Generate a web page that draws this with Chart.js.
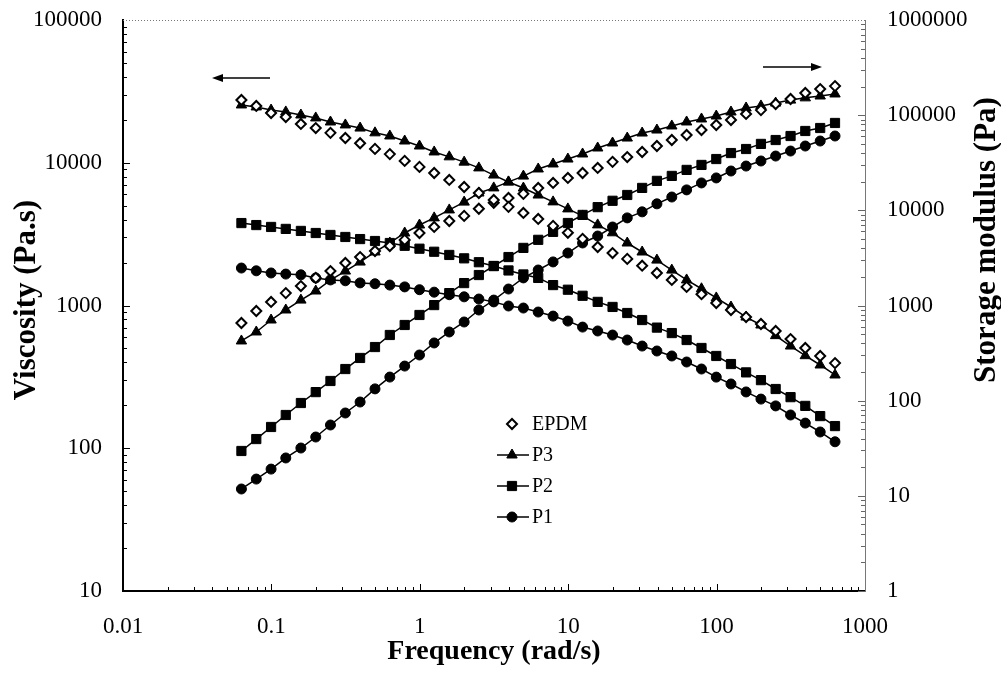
<!DOCTYPE html>
<html>
<head>
<meta charset="utf-8">
<script src="https://cdn.jsdelivr.net/npm/chart.js@4/dist/chart.umd.min.js"></script>
<style>
  html, body { margin: 0; padding: 0; background: #fff; }
  #wrap { width: 1001px; height: 676px; }
</style>
</head>
<body>
<div id="wrap"><canvas id="chart" width="1001" height="676"></canvas></div>
<script>
// Frequency sweep (rad/s)
const freq = [0.0628, 0.0791, 0.0995, 0.125, 0.158, 0.199, 0.250, 0.315, 0.396, 0.499,
    0.628, 0.791, 0.995, 1.25, 1.58, 1.99, 2.50, 3.15, 3.96, 4.99,
    6.28, 7.91, 9.95, 12.5, 15.8, 19.9, 25.0, 31.5, 39.6, 49.9,
    62.8, 79.1, 99.5, 125, 158, 199, 250, 315, 396, 499, 628];

// Viscosity (Pa.s) - left axis
const etaEPDM = [27500, 25000, 22300, 20900, 18700, 17500, 16200, 14900, 13700, 12500,
    11500, 10300, 9350, 8480, 7580, 6760, 6140, 5480, 4910, 4450,
    4040, 3610, 3230, 2930, 2570, 2330, 2120, 1900, 1690, 1510,
    1350, 1200, 1040, 929, 830, 742, 663, 582, 504, 443, 395];
const etaP3 = [25400, 24600, 23400, 22700, 21600, 20600, 19300, 18400, 17500, 16200,
    15400, 14200, 13100, 11900, 11000, 10100, 9200, 8200, 7330, 6650,
    5940, 5320, 4750, 4240, 3670, 3230, 2740, 2370, 2080, 1770,
    1510, 1310, 1130, 976, 830, 730, 615, 520, 445, 383, 326];
const etaP2 = [3780, 3660, 3550, 3440, 3330, 3220, 3120, 3020, 2920, 2830,
    2740, 2620, 2500, 2380, 2260, 2140, 2010, 1890, 1760, 1650,
    1560, 1390, 1290, 1170, 1060, 977, 886, 791, 700, 641,
    573, 504, 443, 389, 340, 300, 260, 228, 198, 168, 143];
const etaP1 = [1830, 1750, 1690, 1660, 1640, 1560, 1510, 1490, 1440, 1420,
    1390, 1350, 1290, 1240, 1190, 1150, 1110, 1060, 992, 960,
    900, 843, 778, 706, 663, 621, 573, 520, 480, 443,
    402, 359, 315, 282, 248, 221, 198, 171, 150, 130, 111];

// Storage modulus (Pa) - right axis
const gEPDM = [655, 875, 1090, 1350, 1600, 1950, 2300, 2800, 3230, 3740,
    4220, 4890, 5780, 6690, 7730, 8740, 10400, 12000, 13500, 14900,
    17200, 19400, 21900, 24700, 27900, 32300, 36300, 41000, 47400, 54800,
    61900, 69800, 78900, 88900, 103000, 113000, 131000, 148000, 171000, 188000, 202000];
const gP3 = [424, 527, 704, 897, 1140, 1420, 1850, 2300, 2860, 3650,
    4540, 5780, 7010, 8330, 10100, 12200, 15200, 17200, 19900, 22900,
    27200, 30700, 34600, 39100, 45200, 51000, 57500, 64900, 69800, 77000,
    84800, 91200, 98000, 108000, 119000, 125000, 134000, 144000, 152000, 159000, 167000];
const gP2 = [29.6, 39.5, 52.9, 70.7, 94.5, 123, 161, 215, 281, 366,
    490, 624, 795, 1010, 1350, 1720, 2090, 2600, 3230, 4030,
    4900, 5940, 7360, 8950, 10800, 12600, 14500, 17200, 20400, 23000,
    26600, 30000, 34600, 40000, 44100, 49900, 54800, 60400, 68200, 73300, 82800];
const gP1 = [11.8, 15.0, 19.1, 25.0, 31.8, 41.5, 55.5, 74.2, 96.8, 133,
    177, 231, 302, 404, 527, 671, 897, 1140, 1490, 1950,
    2360, 2870, 3560, 4540, 5370, 6680, 8330, 9640, 11700, 13800,
    16400, 19400, 21900, 25900, 29200, 33000, 37200, 42000, 47400, 53500, 60400];

// Tick labels
const xTickLabels = ['0.01', '0.1', '1', '10', '100', '1000'];
const yTickLabels = ['10', '100', '1000', '10000', '100000'];
const y2TickLabels = ['1', '10', '100', '1000', '10000', '100000', '1000000'];

const seriesNames = ['EPDM', 'P3', 'P2', 'P1'];

const SERIF = '"Liberation Serif", "Times New Roman", serif';

const toPoints = arr => freq.map((f, i) => ({ x: f, y: arr[i] }));

function styleFor(name) {
    if (name === 'EPDM') {
        return { pointStyle: 'rectRot', pointRadius: 5, pointBackgroundColor: '#fff',
                 pointBorderColor: '#000', pointBorderWidth: 2, showLine: false };
    }
    const base = { borderColor: '#000', borderWidth: 1.5, pointBackgroundColor: '#000',
                   pointBorderColor: '#000', pointBorderWidth: 1, showLine: true };
    if (name === 'P3') return Object.assign(base, { pointStyle: 'triangle', pointRadius: 6 });
    if (name === 'P2') return Object.assign(base, { pointStyle: 'rect', pointRadius: 6.5 });
    return Object.assign(base, { pointStyle: 'circle', pointRadius: 5 });
}

const etaSets = [etaEPDM, etaP3, etaP2, etaP1];
const gSets = [gEPDM, gP3, gP2, gP1];
const datasets = [];
seriesNames.forEach((name, k) => {
    datasets.push(Object.assign({ label: name + ' viscosity', data: toPoints(etaSets[k]), yAxisID: 'y' }, styleFor(name)));
    datasets.push(Object.assign({ label: name + ' G\'', data: toPoints(gSets[k]), yAxisID: 'y2' }, styleFor(name)));
});

// ticks from label lists
const setTicks = labels => axis => { axis.ticks = labels.map(l => ({ value: Number(l) })); };
const tickFont = { family: SERIF, size: 23 };
// fixed box sizes, no label overflow padding
const fixBox = (w, h) => s => {
    if (w) s.width = w;
    if (h) s.height = h;
    s.paddingTop = 0; s.paddingBottom = 0; s.paddingLeft = 0; s.paddingRight = 0;
};

// inside minor ticks, top border, arrows, legend, titles
const decor = {
    id: 'decor',
    afterDraw(chart) {
        const { ctx, chartArea: a, scales } = chart;
        ctx.save();

        function minorValues(min, max) {
            const out = [];
            for (let e = Math.round(Math.log10(min)); e < Math.round(Math.log10(max)); e++) {
                for (let m = 1; m <= 9; m++) out.push({ v: m * Math.pow(10, e), major: m === 1 });
            }
            return out;
        }
        // bottom axis ticks
        ctx.strokeStyle = '#000';
        ctx.lineWidth = 1;
        minorValues(0.01, 1000).forEach(t => {
            const px = Math.round(scales.x.getPixelForValue(t.v)) + 0.5;
            ctx.beginPath();
            ctx.moveTo(px, a.bottom);
            ctx.lineTo(px, a.bottom - (t.major ? 7 : 4));
            ctx.stroke();
        });
        // left axis ticks
        minorValues(10, 100000).forEach(t => {
            const py = Math.round(scales.y.getPixelForValue(t.v)) + 0.5;
            ctx.beginPath();
            ctx.moveTo(a.left, py);
            ctx.lineTo(a.left + (t.major ? 7 : 4), py);
            ctx.stroke();
        });
        // right axis ticks
        ctx.strokeStyle = '#666';
        minorValues(1, 1000000).forEach(t => {
            const py = Math.round(scales.y2.getPixelForValue(t.v)) + 0.5;
            ctx.beginPath();
            ctx.moveTo(a.right, py);
            ctx.lineTo(a.right - (t.major ? 7 : 4), py);
            ctx.stroke();
        });
        // dotted top border
        ctx.setLineDash([1, 2]);
        ctx.strokeStyle = '#777';
        ctx.beginPath();
        ctx.moveTo(a.left, a.top + 0.5);
        ctx.lineTo(a.right, a.top + 0.5);
        ctx.stroke();
        ctx.setLineDash([]);

        // arrows
        ctx.strokeStyle = '#000';
        ctx.fillStyle = '#000';
        ctx.lineWidth = 1.5;
        function arrow(x1, x2, y) {
            const dir = Math.sign(x2 - x1);
            ctx.beginPath();
            ctx.moveTo(x1, y);
            ctx.lineTo(x2 - dir * 8, y);
            ctx.stroke();
            ctx.beginPath();
            ctx.moveTo(x2, y);
            ctx.lineTo(x2 - dir * 11, y - 4);
            ctx.lineTo(x2 - dir * 11, y + 4);
            ctx.closePath();
            ctx.fill();
        }
        arrow(270, 212, 78);
        arrow(763, 822, 67);

        // legend
        const lx = 512, rows = [424, 455, 486, 517];
        ctx.font = '20px ' + SERIF;
        ctx.textBaseline = 'middle';
        ctx.textAlign = 'left';
        seriesNames.forEach((name, k) => {
            const st = styleFor(name);
            const y = rows[k];
            if (st.showLine) {
                ctx.lineWidth = 1.5;
                ctx.strokeStyle = '#000';
                ctx.beginPath();
                ctx.moveTo(lx - 15, y);
                ctx.lineTo(lx + 17, y);
                ctx.stroke();
            }
            ctx.fillStyle = st.pointBackgroundColor;
            ctx.strokeStyle = st.pointBorderColor;
            ctx.lineWidth = st.pointBorderWidth;
            Chart.helpers.drawPoint(ctx, { pointStyle: st.pointStyle, radius: st.pointRadius, borderWidth: st.pointBorderWidth, rotation: 0 }, lx, y);
            ctx.fillStyle = '#000';
            ctx.fillText(name, lx + 20, y + 1);
        });

        // axis titles
        ctx.fillStyle = '#000';
        ctx.textAlign = 'center';
        ctx.textBaseline = 'middle';
        ctx.font = 'bold 28px ' + SERIF;
        ctx.fillText('Frequency (rad/s)', (a.left + a.right) / 2, 652);
        ctx.font = 'bold 31px ' + SERIF;
        ctx.save();
        ctx.translate(27, 300);
        ctx.rotate(-Math.PI / 2);
        ctx.fillText('Viscosity (Pa.s)', 0, 0);
        ctx.restore();
        ctx.save();
        ctx.translate(987, 240);
        ctx.rotate(-Math.PI / 2);
        ctx.fillText('Storage modulus (Pa)', 0, 0);
        ctx.restore();

        ctx.restore();
    }
};

new Chart(document.getElementById('chart'), {
    type: 'scatter',
    data: { datasets: datasets },
    options: {
        responsive: false,
        animation: false,
        events: [],
        layout: { padding: { top: 20, left: 0, right: 0, bottom: 0 } },
        plugins: { legend: { display: false }, tooltip: { enabled: false } },
        scales: {
            x: {
                type: 'logarithmic', position: 'bottom', min: 0.01, max: 1000,
                afterBuildTicks: setTicks(xTickLabels),
                afterFit: fixBox(0, 85),
                ticks: { autoSkip: false, maxRotation: 0, padding: 22, color: '#000', font: tickFont,
                         callback: (v, i) => xTickLabels[i] },
                grid: { display: true, drawOnChartArea: false, drawTicks: false },
                border: { display: true, color: '#000', width: 2 }
            },
            y: {
                type: 'logarithmic', position: 'left', min: 10, max: 100000,
                afterBuildTicks: setTicks(yTickLabels),
                afterFit: fixBox(123, 0),
                ticks: { autoSkip: false, padding: 21, color: '#000', font: tickFont,
                         callback: (v, i) => yTickLabels[i] },
                grid: { display: true, drawOnChartArea: false, drawTicks: false },
                border: { display: true, color: '#000', width: 2 }
            },
            y2: {
                type: 'logarithmic', position: 'right', min: 1, max: 1000000,
                afterBuildTicks: setTicks(y2TickLabels),
                afterFit: fixBox(136, 0),
                ticks: { autoSkip: false, padding: 22, color: '#000', font: tickFont,
                         callback: (v, i) => y2TickLabels[i] },
                grid: { display: true, drawOnChartArea: false, drawTicks: false },
                border: { display: true, color: '#777', width: 1, dash: [1, 2] }
            }
        }
    },
    plugins: [decor]
});
</script>
</body>
</html>
